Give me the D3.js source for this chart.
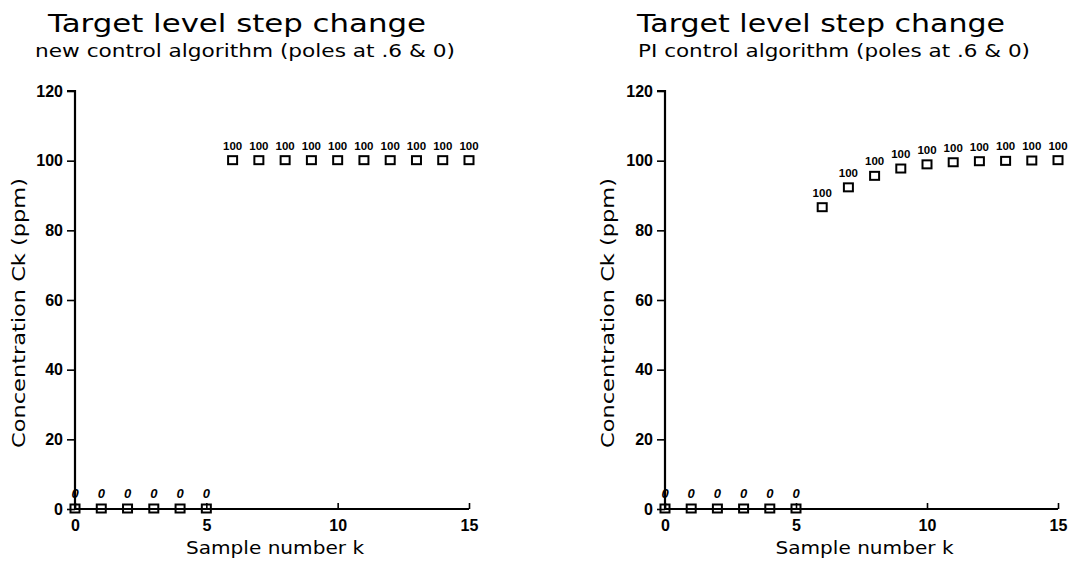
<!DOCTYPE html>
<html>
<head>
<meta charset="utf-8">
<script src="https://cdn.jsdelivr.net/npm/d3@7"></script>
<style>
  html, body { margin: 0; padding: 0; background: #fff; }
  svg { display: block; }
  .title { font-family: "DejaVu Sans", sans-serif; font-weight: normal; fill: #000; }
  .tick-label { font-family: "Liberation Sans", Arial, sans-serif; font-weight: bold; fill: #000; }
</style>
</head>
<body>
<svg id="chart" width="1071" height="569"></svg>
<script>
// Sample index k
const samples = [0, 1, 2, 3, 4, 5, 6, 7, 8, 9, 10, 11, 12, 13, 14, 15];
// Target level (setpoint) at each sample, ppm
const targetLevel = [0, 0, 0, 0, 0, 0, 100, 100, 100, 100, 100, 100, 100, 100, 100, 100];
// Measured concentration Ck, new control algorithm
const newAlgorithmConc = [0, 0, 0, 0, 0, 0, 100, 100, 100, 100, 100, 100, 100, 100, 100, 100];
// Measured concentration Ck, PI control algorithm
const piAlgorithmConc = [0, 0, 0, 0, 0, 0, 86.5, 92.2, 95.5, 97.6, 98.8, 99.4, 99.7, 99.8, 99.9, 100];

const yTicks = [0, 20, 40, 60, 80, 100, 120];
const xTicks = [0, 5, 10, 15];

const panels = [
  { left: 75, right: 469, title: "Target level step change",
    subtitle: "new control algorithm (poles at .6 & 0)", values: newAlgorithmConc,
    titleX: 48, titleW: 378, subX: 35, subW: 420, yLabelX: 25 },
  { left: 665, right: 1058, title: "Target level step change",
    subtitle: "PI control algorithm (poles at .6 & 0)", values: piAlgorithmConc,
    titleX: 637, titleW: 368, subX: 638, subW: 392, yLabelX: 614 }
];

const svg = d3.select("#chart");
const plotTop = 91, plotBottom = 509;

panels.forEach(p => {
  const g = svg.append("g");
  const x = d3.scaleLinear().domain([0, 15]).range([p.left, p.right]);
  const y = d3.scaleLinear().domain([0, 120]).range([plotBottom, plotTop]);

  // Titles
  g.append("text").attr("class", "title")
    .attr("x", p.titleX).attr("y", 32)
    .attr("font-size", 24)
    .attr("textLength", p.titleW).attr("lengthAdjust", "spacingAndGlyphs")
    .text(p.title);
  g.append("text").attr("class", "title")
    .attr("x", p.subX).attr("y", 57)
    .attr("font-size", 17)
    .attr("textLength", p.subW).attr("lengthAdjust", "spacingAndGlyphs")
    .text(p.subtitle);

  // Y axis
  const yAxis = d3.axisLeft(y).tickValues(yTicks).tickSize(8).tickPadding(4);
  const ya = g.append("g").attr("transform", `translate(${p.left},0)`).call(yAxis);
  ya.select(".domain").attr("d", `M-8,${plotTop}H0V${plotBottom}`).attr("stroke-width", 2.2).attr("stroke", "#000");
  ya.selectAll(".tick line").attr("stroke-width", 1.6).attr("stroke", "#000");
  ya.selectAll(".tick text").attr("class", "tick-label").attr("font-size", 16);

  // X axis (ticks point up into the plot)
  const xAxis = d3.axisBottom(x).tickValues(xTicks).tickSize(0).tickPadding(11);
  const xa = g.append("g").attr("transform", `translate(0,${plotBottom})`).call(xAxis);
  xa.select(".domain").attr("d", `M${p.left},0H${p.right}`).attr("stroke-width", 2.2).attr("stroke", "#000");
  xa.selectAll(".tick").append("line").attr("y1", 0).attr("y2", -6)
    .attr("stroke", "#000").attr("stroke-width", 1.6);
  xa.selectAll(".tick text").attr("class", "tick-label").attr("font-size", 16);

  // Axis labels
  g.append("text").attr("class", "title")
    .attr("transform", `translate(${p.yLabelX},313) rotate(-90)`)
    .attr("text-anchor", "middle").attr("font-size", 18)
    .attr("textLength", 270).attr("lengthAdjust", "spacingAndGlyphs")
    .text("Concentration Ck (ppm)");
  g.append("text").attr("class", "title")
    .attr("x", (p.left + p.right) / 2 + 3).attr("y", 554)
    .attr("text-anchor", "middle").attr("font-size", 18)
    .attr("textLength", 178).attr("lengthAdjust", "spacingAndGlyphs")
    .text("Sample number k");

  // Data markers: open squares
  const pts = samples.map((k, i) => ({ k, c: p.values[i], t: targetLevel[i] }));
  g.selectAll("rect.pt").data(pts).join("rect").attr("class", "pt")
    .attr("x", d => x(d.k) - 4.5).attr("y", d => y(d.c) - 4.5)
    .attr("width", 9).attr("height", 8)
    .attr("fill", "none").attr("stroke", "#000").attr("stroke-width", 2);

  // Target level labels above each marker
  g.selectAll("text.val").data(pts).join("text").attr("class", "val tick-label")
    .attr("x", d => x(d.k)).attr("y", d => y(d.c) - 11)
    .attr("text-anchor", "middle").attr("font-size", d => d.t >= 100 ? 11.5 : 13)
    .attr("font-style", d => d.t >= 100 ? "normal" : "italic")
    .text(d => d.t);
});
</script>
</body>
</html>
